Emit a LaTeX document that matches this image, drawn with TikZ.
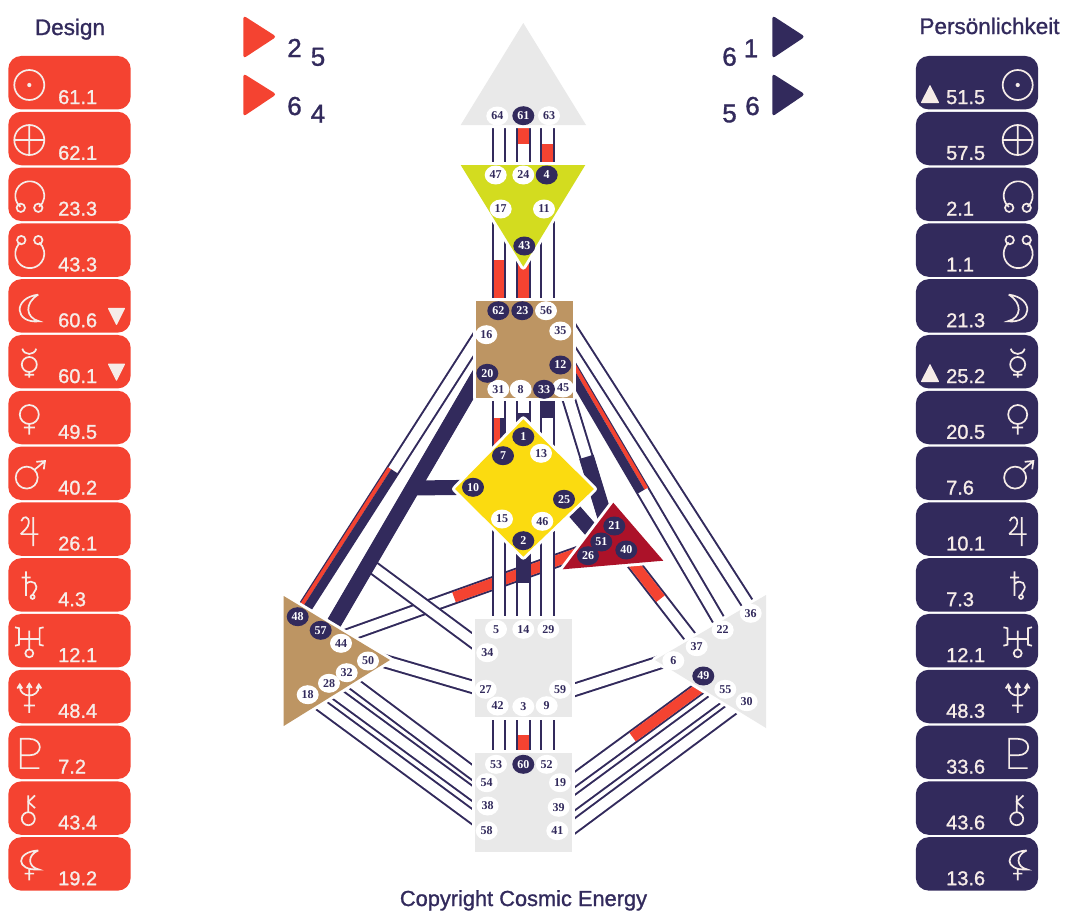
\documentclass[tikz,border=0pt]{standalone}
\usepackage{fontspec}
\setmainfont{Liberation Sans}
\newfontfamily\gatefont{Liberation Serif}
\newfontfamily\labelfont{Liberation Sans}[FakeBold=1.2]
\usetikzlibrary{positioning, shapes.geometric, calc}

\definecolor{navy}{HTML}{322A5C}
\definecolor{actred}{HTML}{F44331}
\definecolor{centergray}{HTML}{E9E9E9}
\definecolor{centertan}{HTML}{BD9563}
\definecolor{ajnagreen}{HTML}{D3DC1F}
\definecolor{gyellow}{HTML}{FBDB10}
\definecolor{egored}{HTML}{AC1229}
\definecolor{symcol}{HTML}{F6ECE8}

\pgfdeclarelayer{chans}
\pgfsetlayers{chans,main}

\tikzset{
  sym/.style={draw=symcol, line width=1.7pt, fill=none},
  sunsym/.pic={\path[sym] (0,2.3) circle (15); \fill[symcol] (0,2.3) circle (2.1);},
  earthsym/.pic={\path[sym] (0,1.5) circle (15) (-15,1.5) -- (15,1.5) (0,-13.5) -- (0,16.5);},
  northsym/.pic={\path[sym] (0.5,1.5) ++(130:14.5) arc (130:410:14.5)
      (-8.5,13.5) circle (4.2) (9,13.5) circle (4.2);},
  southsym/.pic={\path[sym] (0.5,3.5) ++(230:14.5) arc (230:-50:14.5)
      (-8,-10) circle (4.2) (9,-10) circle (4.2);},
  moonsym/.pic={\path[sym] (9,-11.3) .. controls (-17,-8) and (-15,18) .. (10,15.4)
      .. controls (-4,12) and (-5,-3) .. (9,-11.3);},
  moonrsym/.pic={\path[sym] (-9,-11.3) .. controls (17,-8) and (15,18) .. (-10,15.4)
      .. controls (4,12) and (5,-3) .. (-9,-11.3);},
  mercurysym/.pic={\path[sym] (0,2.8) circle (7.5) (0,10.3) -- (0,16) (-4.7,13) -- (4.7,13)
      (-7,-13) .. controls (-5,-6) and (5,-6) .. (7,-13);},
  venussym/.pic={\path[sym] (0,-3) circle (9.5) (0,6.5) -- (0,17) (-5.5,10) -- (5.5,10);},
  marssym/.pic={\path[sym] (-2.6,4.3) circle (11) (5.2,-3.5) -- (15.7,-12.3)
      (7,-11.5) -- (15.7,-12.3) -- (14.5,-4);},
  jupitersym/.pic={\path[sym] (4,-12) -- (4,17) (-8.6,5) -- (9,5)
      (-8,-8) .. controls (-6,-14) and (0,-13) .. (-0.5,-6) .. controls (-1,-1) and (-6,2) .. (-8.6,5);},
  saturnsym/.pic={\path[sym] (-3.3,-13.5) -- (-3.3,11) (-7.6,-7.5) -- (1.4,-7.5)
      (-3.3,-1) .. controls (3,-7) and (11,0) .. (5,7) .. controls (4,8) and (3.5,9) .. (3.3,10)
      (3.3,12) circle (2);},
  uranussym/.pic={\path[sym] (0,-10) -- (0,8.3) (0,12.6) circle (4) (-10.3,-1.7) -- (10.3,-1.7)
      (-14.3,-13.4) -- (-10.3,-12.5) -- (-10.3,4) -- (-14.3,5)
      (14.3,-13.4) -- (10.3,-12.5) -- (10.3,4) -- (14.3,5);},
  neptunesym/.pic={\path[sym] (0,-12.6) -- (0,16.4) (-5.5,9) -- (5.5,9)
      (-9.5,-10) .. controls (-9.5,2) and (9.5,2) .. (9.5,-10)
      (-12,-8) -- (-9.5,-12) -- (-7,-8) (-2.5,-8.6) -- (0,-12.6) -- (2.5,-8.6)
      (7,-8) -- (9.5,-12) -- (12,-8);},
  plutosym/.pic={\path[sym] (10,15.8) -- (-8.6,15.8) -- (-8.6,-13.5) -- (0,-13.5)
      .. controls (14,-13.5) and (14,3) .. (0,3) -- (-8.6,3);},
  chironsym/.pic={\path[sym] (-1,10.6) circle (6.5) (-1,4.1) -- (-1,-12.7)
      (5.7,-12.7) -- (-1,-6.2) -- (5.7,0);},
  ceressym/.pic={\path[sym] (9,-13.5) .. controls (-14,-12) and (-14,7) .. (9.6,5.6)
      .. controls (-2,3) and (-2,-9) .. (9,-13.5) (0,4.7) -- (0,16.4) (-4.7,9.7) -- (4.7,9.7);},
  panelbox/.style={rounded corners=13pt, minimum width=122.4pt, minimum height=53.5pt,
      inner sep=0pt, outer sep=0pt, fill=#1},
  valtext/.style={anchor=base west, inner sep=0pt, text=symcol, font=\labelfont\fontsize{20}{20}\selectfont},
  title/.style={anchor=base, inner sep=0pt, text=navy, font=\labelfont\fontsize{22.5}{24}\selectfont},
  bignum/.style={anchor=base, inner sep=0pt, text=navy, font=\labelfont\fontsize{26}{26}\selectfont},
  gate/.style={ellipse, inner sep=0pt, minimum width=22pt, minimum height=19pt, fill=white,
      text=navy, font=\gatefont\bfseries\fontsize{12}{12}\selectfont},
  gateon/.style={gate, fill=navy, text=white},
  centre/.style={fill=#1, preaction={draw=white, line width=6pt, line join=round}},
  chan/.style={draw=navy, line width=2pt, double=white, double distance=10.3pt},
  redpart/.style={draw=actred, line width=10.6pt},
  navypart/.style={draw=navy, line width=15pt},
  markertri/.style={fill=symcol, draw=symcol, line width=1pt, line join=round}
}

\begin{document}
\begin{tikzpicture}[x=1pt, y=-1pt]
  \useasboundingbox (0,0) rectangle (1065,910);

  % side panels
  \node[title] (designtitle) at (70,35) {Design};
  \node[title] (perstitle) at (989.5,34) {Persönlichkeit};
  \foreach \i/\sym/\val in {1/sunsym/61.1, 2/earthsym/62.1, 3/northsym/23.3, 4/southsym/43.3,
      5/moonsym/60.6, 6/mercurysym/60.1, 7/venussym/49.5, 8/marssym/40.2, 9/jupitersym/26.1,
      10/saturnsym/4.3, 11/uranussym/12.1, 12/neptunesym/48.4, 13/plutosym/7.2,
      14/chironsym/43.4, 15/ceressym/19.2}
  {
    \node[panelbox=actred] (d\i) at (69.5,26.9+55.8*\i) {};
    \node[valtext] (dv\i) at ([shift={(-11.5,21.3)}]d\i.center) {\val};
    \pic at ([shift={(-40.2,0)}]d\i.center) {\sym};
  }
  \foreach \i/\sym/\val in {1/sunsym/51.5, 2/earthsym/57.5, 3/northsym/2.1, 4/southsym/1.1,
      5/moonrsym/21.3, 6/mercurysym/25.2, 7/venussym/20.5, 8/marssym/7.6, 9/jupitersym/10.1,
      10/saturnsym/7.3, 11/uranussym/12.1, 12/neptunesym/48.3, 13/plutosym/33.6,
      14/chironsym/43.6, 15/ceressym/13.6}
  {
    \node[panelbox=navy] (p\i) at (977,26.9+55.8*\i) {};
    \node[valtext] (pv\i) at ([shift={(-31,21.3)}]p\i.center) {\val};
    \pic at ([shift={(40.7,0)}]p\i.center) {\sym};
  }
  \foreach \i in {5,6}
    \path[markertri] ([shift={(39,2.5)}]d\i.center) -- ([shift={(55,2.5)}]d\i.center)
      -- ([shift={(47,18.5)}]d\i.center) -- cycle;
  \foreach \i in {1,6}
    \path[markertri] ([shift={(-55.5,19.8)}]p\i.center) -- ([shift={(-38.5,19.8)}]p\i.center)
      -- ([shift={(-47,3)}]p\i.center) -- cycle;

  % top markers
  \fill[actred, rounded corners=3pt] (243.3,15.5) -- (276.5,36.7) -- (243.3,58.5) -- cycle;
  \fill[actred, rounded corners=3pt] (243.3,73.5) -- (276.5,94.3) -- (243.3,116.5) -- cycle;
  \fill[navy, rounded corners=3pt] (772.3,15.5) -- (805,36.7) -- (772.3,58.5) -- cycle;
  \fill[navy, rounded corners=3pt] (772.3,73.5) -- (805,94.3) -- (772.3,116.5) -- cycle;
  \node[bignum] (n2) at (294.5,57) {2};
  \node[bignum] (n5) at (318,65.7) {5};
  \node[bignum] (n6) at (294.5,115) {6};
  \node[bignum] (n4) at (318,122.7) {4};
  \node[bignum] (m6) at (729.5,65.7) {6};
  \node[bignum] (m1) at (751,57.3) {1};
  \node[bignum] (m5) at (729.5,122.3) {5};
  \node[bignum] (m66) at (752.5,115) {6};

  % centres
  \path[centre=centergray] (523.3,23) -- (586,125) -- (460.7,125) -- cycle;
  \path[centre=ajnagreen] (460.7,165) -- (585.3,165) -- (523.3,266.7) -- cycle;
  \path[centre=centertan] (475.7,300.7) rectangle (572.7,398.3);
  \path[centre=gyellow] (523.3,419.3) -- (594,489) -- (523.3,556.7) -- (455,489) -- cycle;
  \path[centre=egored] (613.3,502.7) -- (663.3,560.7) -- (562.7,569.3) -- cycle;
  \path[centre=centergray] (475,619) rectangle (572.3,716.7);
  \path[centre=centergray] (475,752.7) rectangle (572.3,851.7);
  \path[centre=centertan] (283.7,596) -- (390,660) -- (283.7,726) -- cycle;
  \path[centre=centergray] (766,595) -- (655,660) -- (766,728) -- cycle;

  % gates
  \foreach \n/\x/\y in {64/497.3/116, 63/549/115.7, 47/495.7/175, 24/523.3/175, 17/500.7/209,
      11/544/209, 56/546/310.7, 16/486.3/334.7, 35/560.3/331, 31/498.3/389.3, 8/520.7/389.3,
      45/563/388, 13/541/453.3, 15/502/519, 46/542.3/521.3, 5/496/629.3, 14/523.3/629.3,
      29/548.3/629.3, 34/487.3/652.7, 27/485.7/689.3, 59/560/689.3, 42/497.7/706, 3/523.3/706.7,
      9/546.7/705.7, 53/496/764.3, 52/546.7/764.3, 54/486.7/782.7, 19/560/782.7, 38/487.7/806,
      39/558.7/807.3, 58/486.7/830.7, 41/557.3/830.7, 44/341/643.3, 50/368/661, 32/346.7/672.7,
      28/329/683.3, 18/307.7/694.7, 36/750.7/613.3, 22/722.7/630, 37/696.7/646.7, 6/673.3/660.7,
      55/725.3/689.3, 30/746.7/701.7}
    \node[gate] (g\n) at (\x,\y) {\n};
  \foreach \n/\x/\y in {61/523.3/115.7, 4/546.7/175, 43/524.3/246, 62/498.3/310.7, 23/522.3/310.7,
      12/560.3/365, 20/487.3/373.3, 33/544/389.3, 1/523.3/436.7, 7/503/455.7, 10/473/487.3,
      25/564/499.3, 2/523.3/540.7, 21/614.3/526, 51/601.3/542, 40/626.3/550, 26/588/555.7,
      60/523.3/764.3, 48/297.7/616.7, 57/320.7/630.3, 49/703.3/676}
    \node[gateon] (g\n) at (\x,\y) {\n};

  \node[anchor=base, inner sep=0pt, text=navy, font=\labelfont\fontsize{21.8}{22}\selectfont]
    (copy) at (523.5,906) {Copyright Cosmic Energy};

  % channels, all behind the centres
  \begin{pgfonlayer}{chans}
    \coordinate (colA) at (498.8,0);
    \coordinate (colB) at (523.6,0);
    \coordinate (colC) at (547.5,0);
    \coordinate (colAl) at (497.2,0);
    \coordinate (colAr) at (502.5,0);
    \coordinate (join34) at (367,563);
    \coordinate (join10) at (412.7,488);

    \foreach \n/\dx/\dy in {16/0/-10, 48/0/1.9, 20/0/-13, 57/0/15.4, 34/0/-0.6, 50/0/-4.7, 27/0/1.4,
        18/0/0.7, 58/0/-3.3, 28/0/5.1, 38/0/-1.3, 32/0/5.9, 54/0/0.6, 44/0/-5.7, 26/0/-6.2,
        19/0/7.6, 49/0/9.3, 39/0/7.2, 55/0/2.5, 41/0/8.3, 30/0/-3.5, 59/0/5.2, 6/0/-2.7,
        40/0/4.5, 37/0/-1.4, 12/0/-15, 22/0/-3.1, 35/0/-19, 36/0/-4.8, 45/0/-7.6, 21/-6.7/0,
        25/0/0, 51/0/0}
      \coordinate (e\n) at ([shift={(\dx,\dy)}]g\n.center);

    % spleen to sacral, root, ego
    \draw[chan] (e50) -- (e27);
    \draw[chan] (e18) -- (e58);
    \draw[chan] (e28) -- (e38);
    \draw[chan] (e32) -- (e54);
    \draw[chan] (e44) -- (e26);
    \draw[redpart, shorten <=120pt] (e44) -- (e26);
    \draw[chan] (join34) -- (e34);

    % spleen to throat
    \draw[chan] (e16) -- (e48);
    \draw[draw=actred, line width=4pt, shorten <=173pt, transform canvas={shift={(-3.3,-2.1)}}] (e16) -- (e48);
    \draw[draw=navy, line width=8pt, shorten <=173pt, transform canvas={shift={(1.7,1.1)}}] (e16) -- (e48);
    \draw[chan] (e20) -- (e57);
    \draw[navypart] (e20) -- (e57);
    \draw[navypart] (g10.center) -- (join10);

    % esp
    \draw[chan] (e59) -- (e6);
    \draw[chan] (e19) -- (e49);
    \draw[redpart, shorten <=90pt] (e19) -- (e49);
    \draw[chan] (e39) -- (e55);
    \draw[chan] (e41) -- (e30);
    \draw[chan] (e40) -- (e37);
    \draw[redpart, shorten >=59pt] (e40) -- (e37);
    \draw[chan] (e12) -- (e22);
    \draw[draw=actred, line width=4pt, shorten >=158pt, transform canvas={shift={(3.5,-2)}}] (e12) -- (e22);
    \draw[draw=navy, line width=8pt, shorten >=158pt, transform canvas={shift={(-1.7,1)}}] (e12) -- (e22);
    \draw[chan] (e35) -- (e36);

    % ego
    \draw[chan] (e45) -- (e21);
    \draw[navypart, shorten <=80pt] (e45) -- (e21);
    \draw[chan] (e25) -- (e51);
    \draw[navypart] (e25) -- (e51);

    % head and ajna
    \draw[chan] (colA |- g64) -- (colA |- g47);
    \draw[chan] (colB |- g61) -- (colB |- g24);
    \draw[redpart, shorten >=31pt] (colB |- g61) -- (colB |- g24);
    \draw[chan] (colC |- g63) -- (colC |- g4);
    \draw[redpart, shorten <=28.3pt] (colC |- g63) -- (colC |- g4);
    \draw[chan] (colA |- g17) -- (colA |- g62);
    \draw[redpart, shorten <=51pt] (colA |- g17) -- (colA |- g62);
    \draw[chan] (colB |- g43) -- (colB |- g23);
    \draw[redpart] (colB |- g43) -- (colB |- g23);
    \draw[chan] (colC |- g11) -- (colC |- g56);

    % throat to g
    \draw[chan] (colA |- g31) -- (colA |- g7);
    \draw[draw=actred, line width=5.6pt, shorten <=28.7pt] (colAl |- g31) -- (colAl |- g7);
    \draw[draw=navy, line width=5.4pt, shorten <=28.7pt] (colAr |- g31) -- (colAr |- g7);
    \draw[chan] (colB |- g8) -- (colB |- g1);
    \draw[navypart, shorten <=23.7pt] (colB |- g8) -- (colB |- g1);
    \draw[chan] (colC |- g33) -- (colC |- g13);
    \draw[navypart, shorten >=35.3pt] (colC |- g33) -- (colC |- g13);

    % g to sacral
    \draw[chan] (colA |- g15) -- (colA |- g5);
    \draw[chan] (colB |- g2) -- (colB |- g14);
    \draw[navypart, shorten >=46.3pt] (colB |- g2) -- (colB |- g14);
    \draw[chan] (colC |- g46) -- (colC |- g29);

    % sacral to root
    \draw[chan] (colA |- g42) -- (colA |- g53);
    \draw[chan] (colB |- g3) -- (colB |- g60);
    \draw[redpart, shorten <=28.3pt] (colB |- g3) -- (colB |- g60);
    \draw[chan] (colC |- g9) -- (colC |- g52);
  \end{pgfonlayer}
\end{tikzpicture}
\end{document}
